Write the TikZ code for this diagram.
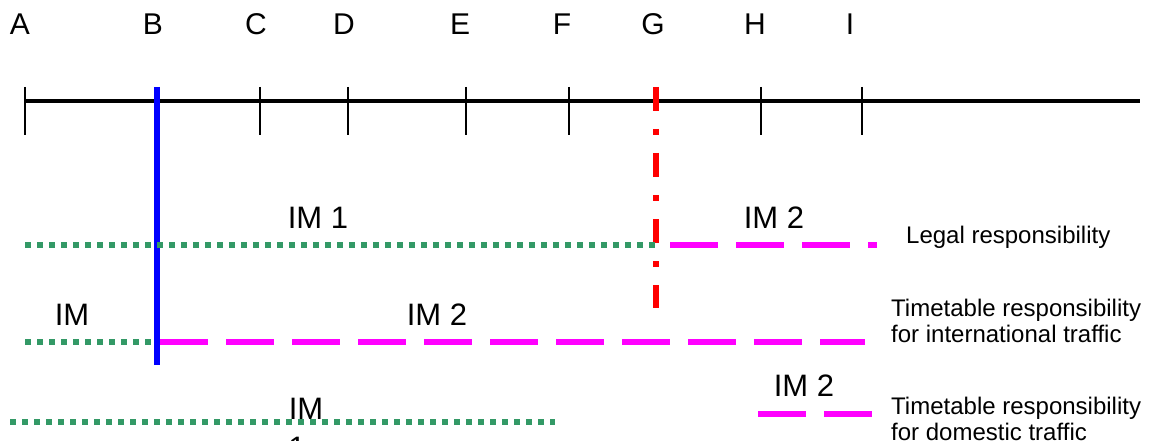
\documentclass[tikz,border=0pt]{standalone}
\usepackage{fontspec}
\setmainfont{Liberation Sans}
\usepackage{tikz}
\definecolor{imgreen}{RGB}{51,153,102}
\definecolor{immagenta}{RGB}{255,0,255}
\tikzstyle{stn} = [anchor=base, inner sep=0pt, font=\fontsize{30}{34}\selectfont]
\tikzstyle{imlbl} = [anchor=base, inner sep=0pt, font=\fontsize{31}{35}\selectfont]
\tikzstyle{resp} = [anchor=base west, inner sep=0pt, align=left, font=\fontsize{24}{26}\selectfont]
\tikzstyle{axis} = [line width=4pt, black]
\tikzstyle{tick} = [line width=1.6pt, black]
\tikzstyle{imone} = [line width=6pt, imgreen, dash pattern=on 6pt off 6pt]
\tikzstyle{imtwo} = [line width=6pt, immagenta, dash pattern=on 48pt off 18pt]
\tikzstyle{borderB} = [line width=6pt, blue]
\tikzstyle{borderG} = [line width=6pt, red, dash pattern=on 24pt off 18pt on 6pt off 18pt]

\begin{document}
\begin{tikzpicture}[x=1pt,y=-1pt]
\useasboundingbox (0,0) rectangle (1149,441);
% stations
\node [stn] (A) at (20,35) {A};
\node [stn] (B) at (153,35) {B};
\node [stn] (C) at (256,35) {C};
\node [stn] (D) at (344,35) {D};
\node [stn] (E) at (460,35) {E};
\node [stn] (F) at (562,35) {F};
\node [stn] (G) at (653,35) {G};
\node [stn] (H) at (755,35) {H};
\node [stn] (I) at (850,35) {I};
% line
\coordinate (lineL) at (25,101);
\coordinate (lineR) at (1140,101);
\draw [axis] (lineL) -- (lineR);
\foreach \x in {25,260,348,466,569,761,862}
    \draw [tick] (\x,87) -- (\x,135);
% borders
\coordinate (bTop) at (157,87);
\coordinate (bBot) at (157,365);
\coordinate (gTop) at (656,87);
\coordinate (gBot) at (656,308);
\draw [borderB] (bTop) -- (bBot);
\draw [borderG] (gTop) -- (gBot);
% legal responsibility
\coordinate (r1a) at (25,245);
\coordinate (r1b) at (655,245);
\coordinate (r1c) at (670,245);
\coordinate (r1d) at (877,245);
\draw [imone] (r1a) -- (r1b);
\draw [imtwo] (r1c) -- (r1d);
\node [imlbl] (lab11) at (318,228) {IM 1};
\node [imlbl] (lab12) at (774,228) {IM 2};
\node [resp] (leg) at (906,243) {Legal responsibility};
% international timetable
\coordinate (r2a) at (25,342);
\coordinate (r2b) at (154,342);
\coordinate (r2c) at (160,342);
\coordinate (r2d) at (865,342);
\draw [imone] (r2a) -- (r2b);
\draw [imtwo] (r2c) -- (r2d);
\node [imlbl] (lab21) at (72,325) {IM};
\node [imlbl] (lab22) at (437,325) {IM 2};
\node [resp] (intl) at (891,342) {Timetable responsibility\\for international traffic};
% domestic timetable
\coordinate (r3a) at (10,422);
\coordinate (r3b) at (555,422);
\coordinate (r3c) at (758,414);
\coordinate (r3d) at (872,414);
\draw [imone] (r3a) -- (r3b);
\draw [imtwo] (r3c) -- (r3d);
\node [imlbl] (lab31) at (306,419) {IM};
\node [imlbl] (lab31b) at (297,458) {1};
\node [imlbl] (lab32) at (804,396) {IM 2};
\node [resp] (dom) at (891,440) {Timetable responsibility\\for domestic traffic};
\end{tikzpicture}
\end{document}
